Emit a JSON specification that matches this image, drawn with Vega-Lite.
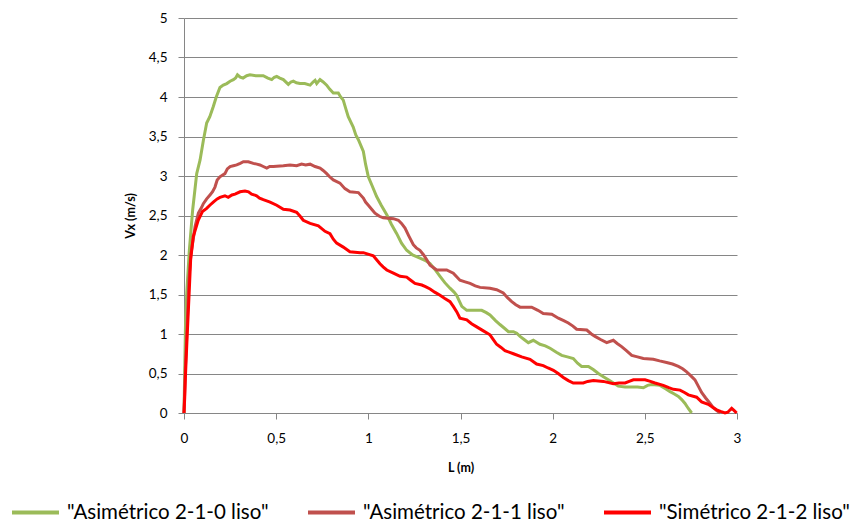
{
  "$schema": "https://vega.github.io/schema/vega-lite/v6.json",
  "width": 553,
  "height": 395,
  "autosize": {"type": "none"},
  "padding": {"left": 184, "top": 18, "right": 124, "bottom": 111},
  "background": "white",
  "config": {
    "view": {"stroke": null},
    "font": "Lato"
  },
  "data": {"values": [
{"s":"\"Asimétrico 2-1-0 liso\"","L":0,"V":0},{"s":"\"Asimétrico 2-1-0 liso\"","L":0.008,"V":1.1},{"s":"\"Asimétrico 2-1-0 liso\"","L":0.015,"V":1.52},{"s":"\"Asimétrico 2-1-0 liso\"","L":0.029,"V":2.06},{"s":"\"Asimétrico 2-1-0 liso\"","L":0.047,"V":2.57},{"s":"\"Asimétrico 2-1-0 liso\"","L":0.069,"V":3.03},{"s":"\"Asimétrico 2-1-0 liso\"","L":0.087,"V":3.2},{"s":"\"Asimétrico 2-1-0 liso\"","L":0.105,"V":3.45},{"s":"\"Asimétrico 2-1-0 liso\"","L":0.123,"V":3.67},{"s":"\"Asimétrico 2-1-0 liso\"","L":0.14,"V":3.75},{"s":"\"Asimétrico 2-1-0 liso\"","L":0.159,"V":3.88},{"s":"\"Asimétrico 2-1-0 liso\"","L":0.175,"V":4.0},{"s":"\"Asimétrico 2-1-0 liso\"","L":0.195,"V":4.12},{"s":"\"Asimétrico 2-1-0 liso\"","L":0.213,"V":4.15},{"s":"\"Asimétrico 2-1-0 liso\"","L":0.232,"V":4.17},{"s":"\"Asimétrico 2-1-0 liso\"","L":0.25,"V":4.2},{"s":"\"Asimétrico 2-1-0 liso\"","L":0.268,"V":4.22},{"s":"\"Asimétrico 2-1-0 liso\"","L":0.28,"V":4.24},{"s":"\"Asimétrico 2-1-0 liso\"","L":0.29,"V":4.28},{"s":"\"Asimétrico 2-1-0 liso\"","L":0.305,"V":4.25},{"s":"\"Asimétrico 2-1-0 liso\"","L":0.32,"V":4.24},{"s":"\"Asimétrico 2-1-0 liso\"","L":0.34,"V":4.27},{"s":"\"Asimétrico 2-1-0 liso\"","L":0.358,"V":4.28},{"s":"\"Asimétrico 2-1-0 liso\"","L":0.39,"V":4.27},{"s":"\"Asimétrico 2-1-0 liso\"","L":0.43,"V":4.27},{"s":"\"Asimétrico 2-1-0 liso\"","L":0.455,"V":4.24},{"s":"\"Asimétrico 2-1-0 liso\"","L":0.476,"V":4.22},{"s":"\"Asimétrico 2-1-0 liso\"","L":0.49,"V":4.25},{"s":"\"Asimétrico 2-1-0 liso\"","L":0.503,"V":4.26},{"s":"\"Asimétrico 2-1-0 liso\"","L":0.52,"V":4.24},{"s":"\"Asimétrico 2-1-0 liso\"","L":0.539,"V":4.22},{"s":"\"Asimétrico 2-1-0 liso\"","L":0.566,"V":4.16},{"s":"\"Asimétrico 2-1-0 liso\"","L":0.58,"V":4.19},{"s":"\"Asimétrico 2-1-0 liso\"","L":0.593,"V":4.2},{"s":"\"Asimétrico 2-1-0 liso\"","L":0.61,"V":4.18},{"s":"\"Asimétrico 2-1-0 liso\"","L":0.629,"V":4.17},{"s":"\"Asimétrico 2-1-0 liso\"","L":0.655,"V":4.17},{"s":"\"Asimétrico 2-1-0 liso\"","L":0.684,"V":4.15},{"s":"\"Asimétrico 2-1-0 liso\"","L":0.7,"V":4.19},{"s":"\"Asimétrico 2-1-0 liso\"","L":0.711,"V":4.21},{"s":"\"Asimétrico 2-1-0 liso\"","L":0.72,"V":4.17},{"s":"\"Asimétrico 2-1-0 liso\"","L":0.738,"V":4.22},{"s":"\"Asimétrico 2-1-0 liso\"","L":0.755,"V":4.19},{"s":"\"Asimétrico 2-1-0 liso\"","L":0.774,"V":4.15},{"s":"\"Asimétrico 2-1-0 liso\"","L":0.79,"V":4.1},{"s":"\"Asimétrico 2-1-0 liso\"","L":0.81,"V":4.05},{"s":"\"Asimétrico 2-1-0 liso\"","L":0.837,"V":4.05},{"s":"\"Asimétrico 2-1-0 liso\"","L":0.85,"V":4.0},{"s":"\"Asimétrico 2-1-0 liso\"","L":0.864,"V":3.96},{"s":"\"Asimétrico 2-1-0 liso\"","L":0.878,"V":3.85},{"s":"\"Asimétrico 2-1-0 liso\"","L":0.891,"V":3.75},{"s":"\"Asimétrico 2-1-0 liso\"","L":0.918,"V":3.62},{"s":"\"Asimétrico 2-1-0 liso\"","L":0.932,"V":3.52},{"s":"\"Asimétrico 2-1-0 liso\"","L":0.946,"V":3.46},{"s":"\"Asimétrico 2-1-0 liso\"","L":0.973,"V":3.31},{"s":"\"Asimétrico 2-1-0 liso\"","L":0.985,"V":3.15},{"s":"\"Asimétrico 2-1-0 liso\"","L":1.0,"V":2.99},{"s":"\"Asimétrico 2-1-0 liso\"","L":1.02,"V":2.88},{"s":"\"Asimétrico 2-1-0 liso\"","L":1.045,"V":2.74},{"s":"\"Asimétrico 2-1-0 liso\"","L":1.07,"V":2.63},{"s":"\"Asimétrico 2-1-0 liso\"","L":1.1,"V":2.51},{"s":"\"Asimétrico 2-1-0 liso\"","L":1.125,"V":2.39},{"s":"\"Asimétrico 2-1-0 liso\"","L":1.154,"V":2.27},{"s":"\"Asimétrico 2-1-0 liso\"","L":1.18,"V":2.15},{"s":"\"Asimétrico 2-1-0 liso\"","L":1.208,"V":2.06},{"s":"\"Asimétrico 2-1-0 liso\"","L":1.24,"V":2.0},{"s":"\"Asimétrico 2-1-0 liso\"","L":1.28,"V":1.96},{"s":"\"Asimétrico 2-1-0 liso\"","L":1.31,"V":1.93},{"s":"\"Asimétrico 2-1-0 liso\"","L":1.335,"V":1.89},{"s":"\"Asimétrico 2-1-0 liso\"","L":1.36,"V":1.82},{"s":"\"Asimétrico 2-1-0 liso\"","L":1.389,"V":1.73},{"s":"\"Asimétrico 2-1-0 liso\"","L":1.415,"V":1.65},{"s":"\"Asimétrico 2-1-0 liso\"","L":1.443,"V":1.58},{"s":"\"Asimétrico 2-1-0 liso\"","L":1.465,"V":1.53},{"s":"\"Asimétrico 2-1-0 liso\"","L":1.479,"V":1.49},{"s":"\"Asimétrico 2-1-0 liso\"","L":1.507,"V":1.35},{"s":"\"Asimétrico 2-1-0 liso\"","L":1.534,"V":1.3},{"s":"\"Asimétrico 2-1-0 liso\"","L":1.56,"V":1.3},{"s":"\"Asimétrico 2-1-0 liso\"","L":1.59,"V":1.3},{"s":"\"Asimétrico 2-1-0 liso\"","L":1.615,"V":1.3},{"s":"\"Asimétrico 2-1-0 liso\"","L":1.64,"V":1.27},{"s":"\"Asimétrico 2-1-0 liso\"","L":1.66,"V":1.24},{"s":"\"Asimétrico 2-1-0 liso\"","L":1.69,"V":1.17},{"s":"\"Asimétrico 2-1-0 liso\"","L":1.714,"V":1.12},{"s":"\"Asimétrico 2-1-0 liso\"","L":1.74,"V":1.07},{"s":"\"Asimétrico 2-1-0 liso\"","L":1.76,"V":1.03},{"s":"\"Asimétrico 2-1-0 liso\"","L":1.787,"V":1.03},{"s":"\"Asimétrico 2-1-0 liso\"","L":1.805,"V":1.01},{"s":"\"Asimétrico 2-1-0 liso\"","L":1.823,"V":0.97},{"s":"\"Asimétrico 2-1-0 liso\"","L":1.845,"V":0.93},{"s":"\"Asimétrico 2-1-0 liso\"","L":1.868,"V":0.89},{"s":"\"Asimétrico 2-1-0 liso\"","L":1.895,"V":0.92},{"s":"\"Asimétrico 2-1-0 liso\"","L":1.931,"V":0.87},{"s":"\"Asimétrico 2-1-0 liso\"","L":1.96,"V":0.85},{"s":"\"Asimétrico 2-1-0 liso\"","L":1.986,"V":0.82},{"s":"\"Asimétrico 2-1-0 liso\"","L":2.02,"V":0.77},{"s":"\"Asimétrico 2-1-0 liso\"","L":2.049,"V":0.73},{"s":"\"Asimétrico 2-1-0 liso\"","L":2.08,"V":0.71},{"s":"\"Asimétrico 2-1-0 liso\"","L":2.112,"V":0.69},{"s":"\"Asimétrico 2-1-0 liso\"","L":2.135,"V":0.63},{"s":"\"Asimétrico 2-1-0 liso\"","L":2.157,"V":0.59},{"s":"\"Asimétrico 2-1-0 liso\"","L":2.194,"V":0.59},{"s":"\"Asimétrico 2-1-0 liso\"","L":2.22,"V":0.55},{"s":"\"Asimétrico 2-1-0 liso\"","L":2.248,"V":0.5},{"s":"\"Asimétrico 2-1-0 liso\"","L":2.275,"V":0.46},{"s":"\"Asimétrico 2-1-0 liso\"","L":2.302,"V":0.42},{"s":"\"Asimétrico 2-1-0 liso\"","L":2.33,"V":0.38},{"s":"\"Asimétrico 2-1-0 liso\"","L":2.356,"V":0.34},{"s":"\"Asimétrico 2-1-0 liso\"","L":2.393,"V":0.33},{"s":"\"Asimétrico 2-1-0 liso\"","L":2.429,"V":0.33},{"s":"\"Asimétrico 2-1-0 liso\"","L":2.46,"V":0.33},{"s":"\"Asimétrico 2-1-0 liso\"","L":2.492,"V":0.32},{"s":"\"Asimétrico 2-1-0 liso\"","L":2.515,"V":0.35},{"s":"\"Asimétrico 2-1-0 liso\"","L":2.537,"V":0.36},{"s":"\"Asimétrico 2-1-0 liso\"","L":2.582,"V":0.35},{"s":"\"Asimétrico 2-1-0 liso\"","L":2.61,"V":0.31},{"s":"\"Asimétrico 2-1-0 liso\"","L":2.637,"V":0.27},{"s":"\"Asimétrico 2-1-0 liso\"","L":2.66,"V":0.24},{"s":"\"Asimétrico 2-1-0 liso\"","L":2.682,"V":0.21},{"s":"\"Asimétrico 2-1-0 liso\"","L":2.7,"V":0.17},{"s":"\"Asimétrico 2-1-0 liso\"","L":2.718,"V":0.12},{"s":"\"Asimétrico 2-1-0 liso\"","L":2.735,"V":0.06},{"s":"\"Asimétrico 2-1-0 liso\"","L":2.754,"V":0.0},
{"s":"\"Asimétrico 2-1-1 liso\"","L":0,"V":0},{"s":"\"Asimétrico 2-1-1 liso\"","L":0.008,"V":0.6},{"s":"\"Asimétrico 2-1-1 liso\"","L":0.017,"V":1.1},{"s":"\"Asimétrico 2-1-1 liso\"","L":0.027,"V":1.7},{"s":"\"Asimétrico 2-1-1 liso\"","L":0.037,"V":2.0},{"s":"\"Asimétrico 2-1-1 liso\"","L":0.05,"V":2.2},{"s":"\"Asimétrico 2-1-1 liso\"","L":0.06,"V":2.36},{"s":"\"Asimétrico 2-1-1 liso\"","L":0.078,"V":2.53},{"s":"\"Asimétrico 2-1-1 liso\"","L":0.095,"V":2.6},{"s":"\"Asimétrico 2-1-1 liso\"","L":0.105,"V":2.65},{"s":"\"Asimétrico 2-1-1 liso\"","L":0.123,"V":2.71},{"s":"\"Asimétrico 2-1-1 liso\"","L":0.141,"V":2.76},{"s":"\"Asimétrico 2-1-1 liso\"","L":0.155,"V":2.8},{"s":"\"Asimétrico 2-1-1 liso\"","L":0.168,"V":2.86},{"s":"\"Asimétrico 2-1-1 liso\"","L":0.18,"V":2.95},{"s":"\"Asimétrico 2-1-1 liso\"","L":0.195,"V":2.99},{"s":"\"Asimétrico 2-1-1 liso\"","L":0.222,"V":3.03},{"s":"\"Asimétrico 2-1-1 liso\"","L":0.235,"V":3.09},{"s":"\"Asimétrico 2-1-1 liso\"","L":0.25,"V":3.12},{"s":"\"Asimétrico 2-1-1 liso\"","L":0.268,"V":3.13},{"s":"\"Asimétrico 2-1-1 liso\"","L":0.286,"V":3.14},{"s":"\"Asimétrico 2-1-1 liso\"","L":0.305,"V":3.16},{"s":"\"Asimétrico 2-1-1 liso\"","L":0.322,"V":3.18},{"s":"\"Asimétrico 2-1-1 liso\"","L":0.349,"V":3.18},{"s":"\"Asimétrico 2-1-1 liso\"","L":0.376,"V":3.16},{"s":"\"Asimétrico 2-1-1 liso\"","L":0.395,"V":3.15},{"s":"\"Asimétrico 2-1-1 liso\"","L":0.412,"V":3.14},{"s":"\"Asimétrico 2-1-1 liso\"","L":0.43,"V":3.12},{"s":"\"Asimétrico 2-1-1 liso\"","L":0.449,"V":3.1},{"s":"\"Asimétrico 2-1-1 liso\"","L":0.465,"V":3.12},{"s":"\"Asimétrico 2-1-1 liso\"","L":0.485,"V":3.12},{"s":"\"Asimétrico 2-1-1 liso\"","L":0.539,"V":3.13},{"s":"\"Asimétrico 2-1-1 liso\"","L":0.575,"V":3.14},{"s":"\"Asimétrico 2-1-1 liso\"","L":0.611,"V":3.13},{"s":"\"Asimétrico 2-1-1 liso\"","L":0.638,"V":3.15},{"s":"\"Asimétrico 2-1-1 liso\"","L":0.66,"V":3.14},{"s":"\"Asimétrico 2-1-1 liso\"","L":0.684,"V":3.15},{"s":"\"Asimétrico 2-1-1 liso\"","L":0.711,"V":3.12},{"s":"\"Asimétrico 2-1-1 liso\"","L":0.738,"V":3.1},{"s":"\"Asimétrico 2-1-1 liso\"","L":0.755,"V":3.07},{"s":"\"Asimétrico 2-1-1 liso\"","L":0.774,"V":3.03},{"s":"\"Asimétrico 2-1-1 liso\"","L":0.79,"V":2.99},{"s":"\"Asimétrico 2-1-1 liso\"","L":0.81,"V":2.95},{"s":"\"Asimétrico 2-1-1 liso\"","L":0.846,"V":2.91},{"s":"\"Asimétrico 2-1-1 liso\"","L":0.873,"V":2.84},{"s":"\"Asimétrico 2-1-1 liso\"","L":0.9,"V":2.8},{"s":"\"Asimétrico 2-1-1 liso\"","L":0.946,"V":2.79},{"s":"\"Asimétrico 2-1-1 liso\"","L":0.973,"V":2.72},{"s":"\"Asimétrico 2-1-1 liso\"","L":0.985,"V":2.67},{"s":"\"Asimétrico 2-1-1 liso\"","L":1.0,"V":2.63},{"s":"\"Asimétrico 2-1-1 liso\"","L":1.018,"V":2.58},{"s":"\"Asimétrico 2-1-1 liso\"","L":1.036,"V":2.53},{"s":"\"Asimétrico 2-1-1 liso\"","L":1.06,"V":2.49},{"s":"\"Asimétrico 2-1-1 liso\"","L":1.081,"V":2.47},{"s":"\"Asimétrico 2-1-1 liso\"","L":1.136,"V":2.46},{"s":"\"Asimétrico 2-1-1 liso\"","L":1.163,"V":2.44},{"s":"\"Asimétrico 2-1-1 liso\"","L":1.18,"V":2.4},{"s":"\"Asimétrico 2-1-1 liso\"","L":1.199,"V":2.34},{"s":"\"Asimétrico 2-1-1 liso\"","L":1.22,"V":2.24},{"s":"\"Asimétrico 2-1-1 liso\"","L":1.244,"V":2.13},{"s":"\"Asimétrico 2-1-1 liso\"","L":1.26,"V":2.09},{"s":"\"Asimétrico 2-1-1 liso\"","L":1.28,"V":2.06},{"s":"\"Asimétrico 2-1-1 liso\"","L":1.3,"V":2.0},{"s":"\"Asimétrico 2-1-1 liso\"","L":1.317,"V":1.94},{"s":"\"Asimétrico 2-1-1 liso\"","L":1.335,"V":1.87},{"s":"\"Asimétrico 2-1-1 liso\"","L":1.371,"V":1.81},{"s":"\"Asimétrico 2-1-1 liso\"","L":1.4,"V":1.81},{"s":"\"Asimétrico 2-1-1 liso\"","L":1.425,"V":1.81},{"s":"\"Asimétrico 2-1-1 liso\"","L":1.461,"V":1.77},{"s":"\"Asimétrico 2-1-1 liso\"","L":1.497,"V":1.68},{"s":"\"Asimétrico 2-1-1 liso\"","L":1.525,"V":1.66},{"s":"\"Asimétrico 2-1-1 liso\"","L":1.552,"V":1.64},{"s":"\"Asimétrico 2-1-1 liso\"","L":1.58,"V":1.61},{"s":"\"Asimétrico 2-1-1 liso\"","L":1.606,"V":1.59},{"s":"\"Asimétrico 2-1-1 liso\"","L":1.66,"V":1.58},{"s":"\"Asimétrico 2-1-1 liso\"","L":1.696,"V":1.56},{"s":"\"Asimétrico 2-1-1 liso\"","L":1.732,"V":1.52},{"s":"\"Asimétrico 2-1-1 liso\"","L":1.755,"V":1.46},{"s":"\"Asimétrico 2-1-1 liso\"","L":1.778,"V":1.41},{"s":"\"Asimétrico 2-1-1 liso\"","L":1.8,"V":1.37},{"s":"\"Asimétrico 2-1-1 liso\"","L":1.823,"V":1.34},{"s":"\"Asimétrico 2-1-1 liso\"","L":1.886,"V":1.34},{"s":"\"Asimétrico 2-1-1 liso\"","L":1.92,"V":1.3},{"s":"\"Asimétrico 2-1-1 liso\"","L":1.949,"V":1.26},{"s":"\"Asimétrico 2-1-1 liso\"","L":1.995,"V":1.25},{"s":"\"Asimétrico 2-1-1 liso\"","L":2.031,"V":1.2},{"s":"\"Asimétrico 2-1-1 liso\"","L":2.06,"V":1.17},{"s":"\"Asimétrico 2-1-1 liso\"","L":2.085,"V":1.14},{"s":"\"Asimétrico 2-1-1 liso\"","L":2.11,"V":1.1},{"s":"\"Asimétrico 2-1-1 liso\"","L":2.13,"V":1.06},{"s":"\"Asimétrico 2-1-1 liso\"","L":2.185,"V":1.05},{"s":"\"Asimétrico 2-1-1 liso\"","L":2.21,"V":1.0},{"s":"\"Asimétrico 2-1-1 liso\"","L":2.23,"V":0.97},{"s":"\"Asimétrico 2-1-1 liso\"","L":2.26,"V":0.93},{"s":"\"Asimétrico 2-1-1 liso\"","L":2.293,"V":0.89},{"s":"\"Asimétrico 2-1-1 liso\"","L":2.329,"V":0.92},{"s":"\"Asimétrico 2-1-1 liso\"","L":2.35,"V":0.88},{"s":"\"Asimétrico 2-1-1 liso\"","L":2.374,"V":0.84},{"s":"\"Asimétrico 2-1-1 liso\"","L":2.4,"V":0.79},{"s":"\"Asimétrico 2-1-1 liso\"","L":2.429,"V":0.73},{"s":"\"Asimétrico 2-1-1 liso\"","L":2.46,"V":0.71},{"s":"\"Asimétrico 2-1-1 liso\"","L":2.492,"V":0.69},{"s":"\"Asimétrico 2-1-1 liso\"","L":2.546,"V":0.68},{"s":"\"Asimétrico 2-1-1 liso\"","L":2.58,"V":0.66},{"s":"\"Asimétrico 2-1-1 liso\"","L":2.618,"V":0.64},{"s":"\"Asimétrico 2-1-1 liso\"","L":2.65,"V":0.62},{"s":"\"Asimétrico 2-1-1 liso\"","L":2.682,"V":0.59},{"s":"\"Asimétrico 2-1-1 liso\"","L":2.705,"V":0.56},{"s":"\"Asimétrico 2-1-1 liso\"","L":2.727,"V":0.52},{"s":"\"Asimétrico 2-1-1 liso\"","L":2.75,"V":0.47},{"s":"\"Asimétrico 2-1-1 liso\"","L":2.772,"V":0.42},{"s":"\"Asimétrico 2-1-1 liso\"","L":2.79,"V":0.34},{"s":"\"Asimétrico 2-1-1 liso\"","L":2.808,"V":0.26},{"s":"\"Asimétrico 2-1-1 liso\"","L":2.83,"V":0.19},{"s":"\"Asimétrico 2-1-1 liso\"","L":2.854,"V":0.12},{"s":"\"Asimétrico 2-1-1 liso\"","L":2.87,"V":0.07},{"s":"\"Asimétrico 2-1-1 liso\"","L":2.89,"V":0.03},{"s":"\"Asimétrico 2-1-1 liso\"","L":2.908,"V":0.0},
{"s":"\"Simétrico 2-1-2 liso\"","L":0,"V":0},{"s":"\"Simétrico 2-1-2 liso\"","L":0.004,"V":0.2},{"s":"\"Simétrico 2-1-2 liso\"","L":0.008,"V":0.48},{"s":"\"Simétrico 2-1-2 liso\"","L":0.017,"V":0.97},{"s":"\"Simétrico 2-1-2 liso\"","L":0.028,"V":1.52},{"s":"\"Simétrico 2-1-2 liso\"","L":0.036,"V":1.94},{"s":"\"Simétrico 2-1-2 liso\"","L":0.05,"V":2.23},{"s":"\"Simétrico 2-1-2 liso\"","L":0.077,"V":2.44},{"s":"\"Simétrico 2-1-2 liso\"","L":0.1,"V":2.55},{"s":"\"Simétrico 2-1-2 liso\"","L":0.123,"V":2.59},{"s":"\"Simétrico 2-1-2 liso\"","L":0.14,"V":2.63},{"s":"\"Simétrico 2-1-2 liso\"","L":0.159,"V":2.67},{"s":"\"Simétrico 2-1-2 liso\"","L":0.18,"V":2.71},{"s":"\"Simétrico 2-1-2 liso\"","L":0.195,"V":2.73},{"s":"\"Simétrico 2-1-2 liso\"","L":0.222,"V":2.75},{"s":"\"Simétrico 2-1-2 liso\"","L":0.24,"V":2.73},{"s":"\"Simétrico 2-1-2 liso\"","L":0.26,"V":2.76},{"s":"\"Simétrico 2-1-2 liso\"","L":0.277,"V":2.77},{"s":"\"Simétrico 2-1-2 liso\"","L":0.304,"V":2.8},{"s":"\"Simétrico 2-1-2 liso\"","L":0.331,"V":2.81},{"s":"\"Simétrico 2-1-2 liso\"","L":0.35,"V":2.8},{"s":"\"Simétrico 2-1-2 liso\"","L":0.367,"V":2.77},{"s":"\"Simétrico 2-1-2 liso\"","L":0.394,"V":2.75},{"s":"\"Simétrico 2-1-2 liso\"","L":0.41,"V":2.72},{"s":"\"Simétrico 2-1-2 liso\"","L":0.43,"V":2.7},{"s":"\"Simétrico 2-1-2 liso\"","L":0.467,"V":2.67},{"s":"\"Simétrico 2-1-2 liso\"","L":0.503,"V":2.63},{"s":"\"Simétrico 2-1-2 liso\"","L":0.539,"V":2.58},{"s":"\"Simétrico 2-1-2 liso\"","L":0.575,"V":2.57},{"s":"\"Simétrico 2-1-2 liso\"","L":0.611,"V":2.54},{"s":"\"Simétrico 2-1-2 liso\"","L":0.63,"V":2.49},{"s":"\"Simétrico 2-1-2 liso\"","L":0.647,"V":2.44},{"s":"\"Simétrico 2-1-2 liso\"","L":0.684,"V":2.4},{"s":"\"Simétrico 2-1-2 liso\"","L":0.729,"V":2.37},{"s":"\"Simétrico 2-1-2 liso\"","L":0.765,"V":2.3},{"s":"\"Simétrico 2-1-2 liso\"","L":0.792,"V":2.27},{"s":"\"Simétrico 2-1-2 liso\"","L":0.81,"V":2.2},{"s":"\"Simétrico 2-1-2 liso\"","L":0.828,"V":2.15},{"s":"\"Simétrico 2-1-2 liso\"","L":0.864,"V":2.1},{"s":"\"Simétrico 2-1-2 liso\"","L":0.9,"V":2.04},{"s":"\"Simétrico 2-1-2 liso\"","L":0.955,"V":2.03},{"s":"\"Simétrico 2-1-2 liso\"","L":0.973,"V":2.03},{"s":"\"Simétrico 2-1-2 liso\"","L":1.027,"V":1.99},{"s":"\"Simétrico 2-1-2 liso\"","L":1.045,"V":1.94},{"s":"\"Simétrico 2-1-2 liso\"","L":1.063,"V":1.89},{"s":"\"Simétrico 2-1-2 liso\"","L":1.08,"V":1.85},{"s":"\"Simétrico 2-1-2 liso\"","L":1.1,"V":1.81},{"s":"\"Simétrico 2-1-2 liso\"","L":1.136,"V":1.77},{"s":"\"Simétrico 2-1-2 liso\"","L":1.172,"V":1.73},{"s":"\"Simétrico 2-1-2 liso\"","L":1.208,"V":1.72},{"s":"\"Simétrico 2-1-2 liso\"","L":1.23,"V":1.68},{"s":"\"Simétrico 2-1-2 liso\"","L":1.253,"V":1.64},{"s":"\"Simétrico 2-1-2 liso\"","L":1.29,"V":1.62},{"s":"\"Simétrico 2-1-2 liso\"","L":1.31,"V":1.6},{"s":"\"Simétrico 2-1-2 liso\"","L":1.335,"V":1.57},{"s":"\"Simétrico 2-1-2 liso\"","L":1.36,"V":1.53},{"s":"\"Simétrico 2-1-2 liso\"","L":1.389,"V":1.49},{"s":"\"Simétrico 2-1-2 liso\"","L":1.415,"V":1.45},{"s":"\"Simétrico 2-1-2 liso\"","L":1.443,"V":1.41},{"s":"\"Simétrico 2-1-2 liso\"","L":1.461,"V":1.35},{"s":"\"Simétrico 2-1-2 liso\"","L":1.48,"V":1.28},{"s":"\"Simétrico 2-1-2 liso\"","L":1.497,"V":1.2},{"s":"\"Simétrico 2-1-2 liso\"","L":1.534,"V":1.18},{"s":"\"Simétrico 2-1-2 liso\"","L":1.56,"V":1.13},{"s":"\"Simétrico 2-1-2 liso\"","L":1.588,"V":1.09},{"s":"\"Simétrico 2-1-2 liso\"","L":1.624,"V":1.04},{"s":"\"Simétrico 2-1-2 liso\"","L":1.66,"V":0.99},{"s":"\"Simétrico 2-1-2 liso\"","L":1.678,"V":0.93},{"s":"\"Simétrico 2-1-2 liso\"","L":1.696,"V":0.87},{"s":"\"Simétrico 2-1-2 liso\"","L":1.72,"V":0.83},{"s":"\"Simétrico 2-1-2 liso\"","L":1.741,"V":0.79},{"s":"\"Simétrico 2-1-2 liso\"","L":1.787,"V":0.75},{"s":"\"Simétrico 2-1-2 liso\"","L":1.832,"V":0.71},{"s":"\"Simétrico 2-1-2 liso\"","L":1.877,"V":0.68},{"s":"\"Simétrico 2-1-2 liso\"","L":1.913,"V":0.62},{"s":"\"Simétrico 2-1-2 liso\"","L":1.949,"V":0.6},{"s":"\"Simétrico 2-1-2 liso\"","L":1.975,"V":0.57},{"s":"\"Simétrico 2-1-2 liso\"","L":2.004,"V":0.54},{"s":"\"Simétrico 2-1-2 liso\"","L":2.03,"V":0.5},{"s":"\"Simétrico 2-1-2 liso\"","L":2.058,"V":0.45},{"s":"\"Simétrico 2-1-2 liso\"","L":2.085,"V":0.41},{"s":"\"Simétrico 2-1-2 liso\"","L":2.112,"V":0.38},{"s":"\"Simétrico 2-1-2 liso\"","L":2.166,"V":0.38},{"s":"\"Simétrico 2-1-2 liso\"","L":2.19,"V":0.4},{"s":"\"Simétrico 2-1-2 liso\"","L":2.221,"V":0.41},{"s":"\"Simétrico 2-1-2 liso\"","L":2.275,"V":0.4},{"s":"\"Simétrico 2-1-2 liso\"","L":2.329,"V":0.37},{"s":"\"Simétrico 2-1-2 liso\"","L":2.36,"V":0.38},{"s":"\"Simétrico 2-1-2 liso\"","L":2.393,"V":0.38},{"s":"\"Simétrico 2-1-2 liso\"","L":2.415,"V":0.4},{"s":"\"Simétrico 2-1-2 liso\"","L":2.438,"V":0.42},{"s":"\"Simétrico 2-1-2 liso\"","L":2.501,"V":0.42},{"s":"\"Simétrico 2-1-2 liso\"","L":2.53,"V":0.4},{"s":"\"Simétrico 2-1-2 liso\"","L":2.555,"V":0.38},{"s":"\"Simétrico 2-1-2 liso\"","L":2.6,"V":0.35},{"s":"\"Simétrico 2-1-2 liso\"","L":2.63,"V":0.32},{"s":"\"Simétrico 2-1-2 liso\"","L":2.655,"V":0.3},{"s":"\"Simétrico 2-1-2 liso\"","L":2.691,"V":0.29},{"s":"\"Simétrico 2-1-2 liso\"","L":2.715,"V":0.26},{"s":"\"Simétrico 2-1-2 liso\"","L":2.736,"V":0.23},{"s":"\"Simétrico 2-1-2 liso\"","L":2.781,"V":0.2},{"s":"\"Simétrico 2-1-2 liso\"","L":2.808,"V":0.14},{"s":"\"Simétrico 2-1-2 liso\"","L":2.844,"V":0.11},{"s":"\"Simétrico 2-1-2 liso\"","L":2.87,"V":0.07},{"s":"\"Simétrico 2-1-2 liso\"","L":2.89,"V":0.04},{"s":"\"Simétrico 2-1-2 liso\"","L":2.91,"V":0.02},{"s":"\"Simétrico 2-1-2 liso\"","L":2.935,"V":0.0},{"s":"\"Simétrico 2-1-2 liso\"","L":2.95,"V":0.01},{"s":"\"Simétrico 2-1-2 liso\"","L":2.971,"V":0.06},{"s":"\"Simétrico 2-1-2 liso\"","L":2.985,"V":0.03},{"s":"\"Simétrico 2-1-2 liso\"","L":2.998,"V":0.0}
  ]},
  "mark": {"type": "line", "strokeWidth": 3, "interpolate": "linear"},
  "encoding": {
    "x": {
      "field": "L", "type": "quantitative",
      "scale": {"domain": [0, 3], "nice": false, "zero": true},
      "axis": {
        "title": "L (m)", "values": [0, 0.5, 1, 1.5, 2, 2.5, 3],
        "grid": false, "domainColor": "#868686", "tickColor": "#868686", "tickSize": 6,
        "labelExpr": "replace(format(datum.value, ''), '.', ',')",
        "labelFont": "Lato", "labelFontSize": 13.5, "labelColor": "#000000", "labelPadding": 12,
        "labelFlush": false, "labelOverlap": false,
        "titleFont": "Lato", "titleFontSize": 12.5, "titleFontWeight": "bold", "titleColor": "#000000",
        "titlePadding": 17
      }
    },
    "y": {
      "field": "V", "type": "quantitative",
      "scale": {"domain": [0, 5], "nice": false},
      "axis": {
        "title": "Vx (m/s)", "values": [0, 0.5, 1, 1.5, 2, 2.5, 3, 3.5, 4, 4.5, 5],
        "grid": true, "gridColor": "#868686", "gridWidth": 1,
        "domainColor": "#868686", "tickColor": "#868686", "tickSize": 6,
        "labelExpr": "replace(format(datum.value, ''), '.', ',')",
        "labelFont": "Lato", "labelFontSize": 13.5, "labelColor": "#000000", "labelPadding": 11,
        "labelFlush": false, "labelOverlap": false,
        "titleFont": "Lato", "titleFontSize": 12.5, "titleFontWeight": "bold", "titleColor": "#000000",
        "titleX": -54, "titleY": 197.5, "titleAlign": "center", "titleBaseline": "middle", "titleAngle": -90
      }
    },
    "color": {
      "field": "s", "type": "nominal",
      "scale": {
        "domain": ["\"Asimétrico 2-1-0 liso\"", "\"Asimétrico 2-1-1 liso\"", "\"Simétrico 2-1-2 liso\""],
        "range": ["#9BBB59", "#C0504D", "#FF0000"]
      },
      "legend": {
        "title": null, "orient": "none", "legendX": -174, "legendY": 469,
        "direction": "horizontal", "columns": 3,
        "symbolType": "stroke", "symbolSize": 2209, "symbolStrokeWidth": 4,
        "labelFont": "Lato", "labelFontSize": 20.5, "labelColor": "#000000", "labelLimit": 400,
        "labelOffset": 6, "columnPadding": 31
      }
    }
  }
}
